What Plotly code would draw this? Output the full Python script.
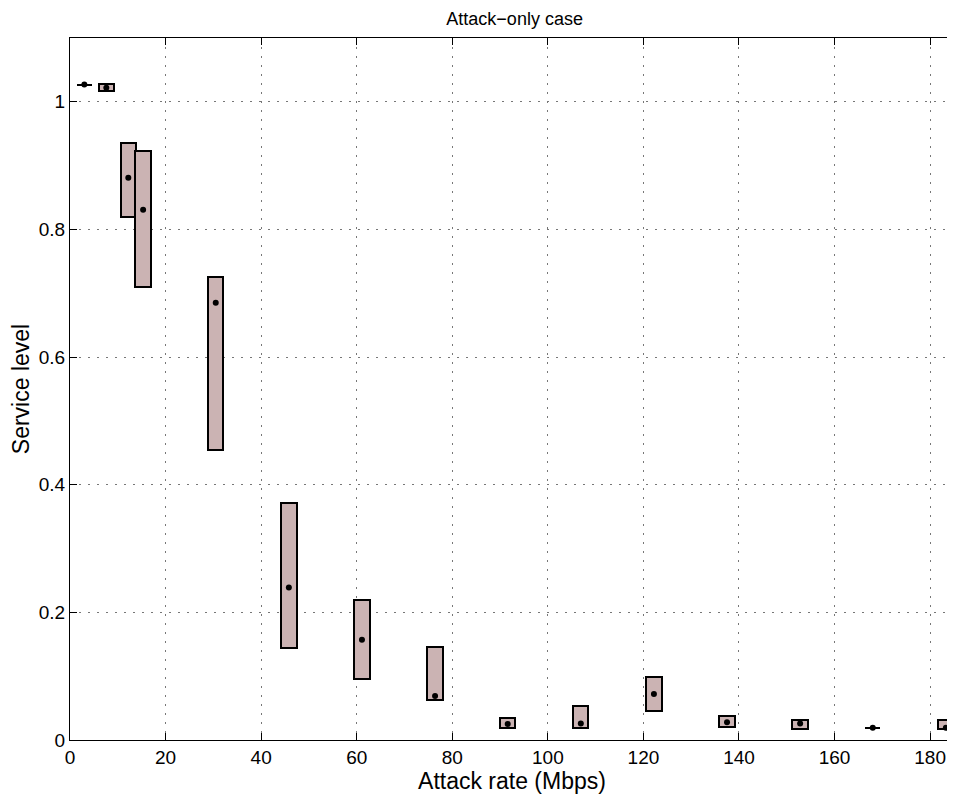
import plotly.graph_objects as go

# attack rate (Mbps) for each measurement
rate = [3.0, 7.6, 12.2, 15.3, 30.5, 45.8, 61.1, 76.4, 91.6, 106.9, 122.2, 137.5, 152.8, 168.0, 183.3]
# service level range (box low / high) and mean (dot)
low = [1.027, 1.017, 0.819, 0.710, 0.455, 0.144, 0.095, 0.062, 0.019, 0.019, 0.046, 0.020, 0.018, 0.019, 0.017]
high = [1.027, 1.028, 0.936, 0.923, 0.726, 0.372, 0.220, 0.145, 0.035, 0.053, 0.099, 0.037, 0.032, 0.019, 0.031]
mean = [1.027, 1.022, 0.881, 0.831, 0.685, 0.239, 0.157, 0.069, 0.025, 0.026, 0.072, 0.028, 0.026, 0.019, 0.019]

x_ticks = list(range(0, 181, 20))
y_ticks = [0, 0.2, 0.4, 0.6, 0.8, 1]

fig = go.Figure()
fig.add_trace(go.Bar(
    x=rate, base=low, y=[h - l for h, l in zip(high, low)],
    width=3.2,
    marker=dict(color="#cbb3b3", line=dict(color="black", width=2)),
    hoverinfo="skip", showlegend=False,
))
fig.add_trace(go.Scatter(
    x=rate, y=mean, mode="markers",
    marker=dict(color="black", size=6),
    showlegend=False,
))

axis_style = dict(
    showline=True, linecolor="black", linewidth=1, mirror="allticks",
    ticks="inside", ticklen=7, tickcolor="black",
    showgrid=True, gridcolor="#777", griddash="2px,7px", gridwidth=1,
    zeroline=False, tickfont=dict(size=19, color="black"), automargin=False,
)

# the page body adds 8px around the plot, so size is reduced to fit the window
fig.update_layout(
    width=947, height=787,
    margin=dict(l=62, r=1, t=30, b=55),
    plot_bgcolor="white", paper_bgcolor="white",
    font=dict(family="Liberation Sans, Arial, sans-serif", size=19, color="black"),
    title=dict(text="Attack\u2212only case", x=0.535, xanchor="center", y=0.994, yanchor="top",
               font=dict(size=18)),
    bargap=0,
)
fig.update_xaxes(range=[0, 185], tickvals=x_ticks, title=dict(text="Attack rate (Mbps)", standoff=2),
                 **axis_style)
fig.update_yaxes(range=[0, 1.1], tickvals=y_ticks, title=dict(text="Service level", standoff=6),
                 **axis_style)

fig.write_html("out.html")
